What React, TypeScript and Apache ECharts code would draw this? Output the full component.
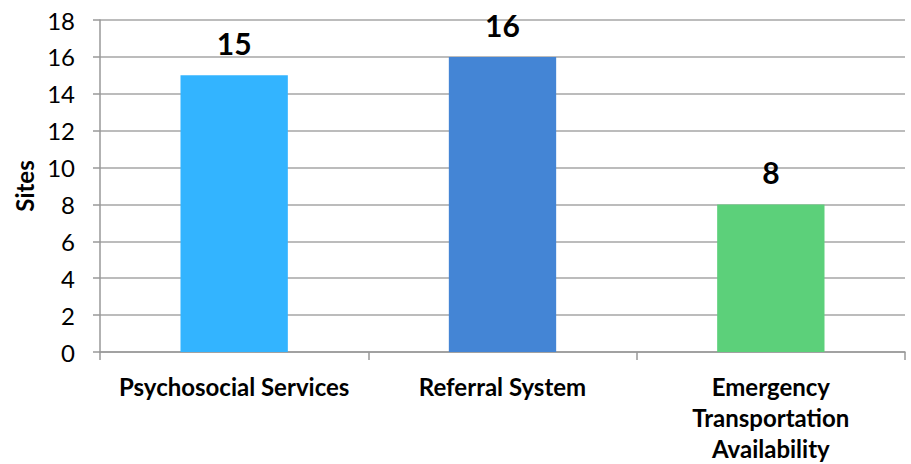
import React, { useEffect, useRef } from "react";
import * as echarts from "echarts";

const categories = ["Psychosocial Services", "Referral System", "Emergency Transportation Availability"];
const siteCounts = [15, 16, 8];
const barColors = ["#33B4FF", "#4485D5", "#5CD07A"];
const yAxisName = "Sites";

export default function App() {
  const ref = useRef<HTMLDivElement>(null);
  useEffect(() => {
    if (!ref.current) return;
    const chart = echarts.init(ref.current, null, { renderer: "svg" });
    const font = "Lato, 'Open Sans', sans-serif";
    chart.setOption({
      animation: false,
      backgroundColor: "#ffffff",
      grid: { left: 100, right: 6, top: 20, bottom: 112, containLabel: false },
      xAxis: {
        type: "category",
        data: categories,
        axisLine: { show: true, lineStyle: { color: "#999999", width: 1.5 } },
        axisTick: { show: true, alignWithLabel: false, length: 8, lineStyle: { color: "#999999", width: 1.5 } },
        axisLabel: {
          interval: 0,
          margin: 19,
          fontFamily: font,
          fontSize: 24,
          fontWeight: "bold",
          color: "#000000",
          lineHeight: 31,
          formatter: (v: string) => (v.length > 22 ? v.split(" ").join("\n") : v),
        },
      },
      yAxis: {
        type: "value",
        min: 0,
        max: 18,
        interval: 2,
        name: yAxisName,
        nameLocation: "middle",
        nameRotate: 90,
        nameGap: 58,
        nameTextStyle: { fontFamily: font, fontSize: 24, fontWeight: "bold", color: "#000000" },
        axisLine: { show: true, lineStyle: { color: "#999999", width: 1.5 } },
        axisTick: { show: true, length: 7, lineStyle: { color: "#999999", width: 1.5 } },
        splitLine: { show: true, lineStyle: { color: "#a6a6a6", width: 1.5 } },
        axisLabel: { margin: 25, fontFamily: font, fontSize: 24, color: "#000000" },
      },
      series: [
        {
          type: "bar",
          barWidth: "40%",
          data: siteCounts.map((v, i) => ({ value: v, itemStyle: { color: barColors[i] } })),
          label: {
            show: true,
            position: "top",
            distance: 17,
            fontFamily: font,
            fontSize: 30,
            fontWeight: "bold",
            color: "#000000",
          },
        },
      ],
    });
    return () => chart.dispose();
  }, []);
  return (
    <div
      ref={ref}
      style={{ position: "fixed", left: 0, top: 0, width: 911, height: 464, background: "#fff" }}
    />
  );
}
